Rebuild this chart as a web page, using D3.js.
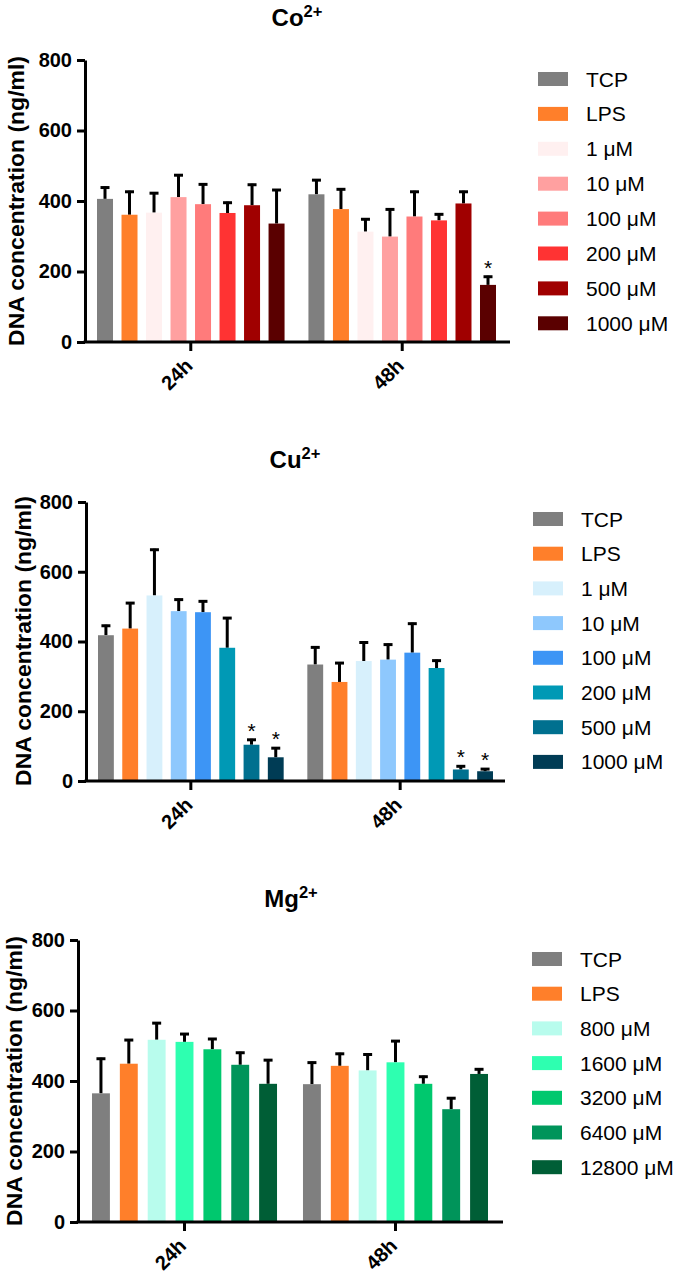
<!DOCTYPE html>
<html>
<head>
<meta charset="utf-8">
<script src="https://cdn.jsdelivr.net/npm/d3@7"></script>
<style>
  html, body { margin: 0; padding: 0; background: #fff; }
  svg { display: block; font-family: "Liberation Sans", Arial, sans-serif; }
</style>
</head>
<body>
<svg id="chart" width="685" height="1275"></svg>
<script>
// ---------------- DATA ----------------
const times = ["24h", "48h"];
const yTicks = [0, 200, 400, 600, 800];

// Co2+
const coSeries = ["TCP", "LPS", "1 μM", "10 μM", "100 μM", "200 μM", "500 μM", "1000 μM"];
const coColors = ["#7f7f7f", "#ff7f2a", "#fff0f0", "#ffa0a0", "#ff7b7b", "#ff3333", "#a00000", "#5a0000"];
const coMean24 = [406, 361, 367, 411, 391, 366, 388, 336];
const coSD24   = [35, 68, 58, 65, 59, 32, 61, 98];
const coMean48 = [419, 377, 313, 299, 356, 345, 393, 162];
const coSD48   = [43, 59, 38, 80, 73, 20, 36, 26];
const coStars24 = [];
const coStars48 = ["1000 μM"];

// Cu2+
const cuSeries = ["TCP", "LPS", "1 μM", "10 μM", "100 μM", "200 μM", "500 μM", "1000 μM"];
const cuColors = ["#7f7f7f", "#ff7f2a", "#d7f0fc", "#8ec8fd", "#3d95f5", "#0099b5", "#00708f", "#003c55"];
const cuMean24 = [418, 437, 532, 487, 484, 382, 104, 68];
const cuSD24   = [30, 76, 134, 36, 34, 88, 17, 29];
const cuMean48 = [334, 284, 344, 348, 368, 324, 33, 28];
const cuSD48   = [52, 57, 56, 46, 86, 24, 12, 9];
const cuStars24 = ["500 μM", "1000 μM"];
const cuStars48 = ["500 μM", "1000 μM"];

// Mg2+
const mgSeries = ["TCP", "LPS", "800 μM", "1600 μM", "3200 μM", "6400 μM", "12800 μM"];
const mgColors = ["#7f7f7f", "#ff7f2a", "#b8fced", "#2effb0", "#00c86e", "#00945a", "#005e36"];
const mgMean24 = [365, 449, 517, 511, 490, 446, 392];
const mgSD24   = [101, 70, 50, 25, 32, 37, 70];
const mgMean48 = [391, 443, 430, 453, 392, 320, 420];
const mgSD48   = [64, 37, 48, 63, 23, 34, 16];
const mgStars24 = [];
const mgStars48 = [];

// ---------------- LAYOUT ----------------
const panels = [
  { ion: "Co", series: coSeries, colors: coColors, means: [coMean24, coMean48], sds: [coSD24, coSD48], stars: [coStars24, coStars48],
    titleX: 297, titleY: 26, y0: 342, y800: 60, axisX: 85, xEnd: 510, gStart: 97, gEnd: 496, padOuter: 0.113, padInner: 0.347,
    legendX: 538, legendY: 79, legendStep: 34.9, labelX: 24, labelY: 201 },
  { ion: "Cu", series: cuSeries, colors: cuColors, means: [cuMean24, cuMean48], sds: [cuSD24, cuSD48], stars: [cuStars24, cuStars48],
    titleX: 295, titleY: 468, y0: 781, y800: 502, axisX: 86, xEnd: 505, gStart: 98, gEnd: 493, padOuter: 0.113, padInner: 0.347,
    legendX: 533, legendY: 519, legendStep: 34.7, labelX: 31, labelY: 641 },
  { ion: "Mg", series: mgSeries, colors: mgColors, means: [mgMean24, mgMean48], sds: [mgSD24, mgSD48], stars: [mgStars24, mgStars48],
    titleX: 291, titleY: 907, y0: 1222, y800: 940, axisX: 78, xEnd: 503, gStart: 92, gEnd: 488, padOuter: 0.123, padInner: 0.357,
    legendX: 532, legendY: 959, legendStep: 34.7, labelX: 22, labelY: 1081 }
];

const FONT = "Liberation Sans, Arial, sans-serif";
const svg = d3.select("#chart");

panels.forEach(p => {
  const g = svg.append("g");

  const y = d3.scaleLinear().domain([0, 800]).range([p.y0, p.y800]);
  const x0 = d3.scaleBand().domain(times).range([p.gStart, p.gEnd]).paddingInner(p.padOuter);
  const x1 = d3.scaleBand().domain(p.series).range([0, x0.bandwidth()]).paddingInner(p.padInner);
  const color = d3.scaleOrdinal().domain(p.series).range(p.colors);

  // Title
  const t = g.append("text")
    .attr("x", p.titleX).attr("y", p.titleY)
    .attr("text-anchor", "middle")
    .attr("font-weight", "bold").attr("font-size", 24)
    .text(p.ion);
  t.append("tspan").attr("dy", -9).attr("font-size", 16.5).text("2+");

  const rows = [];
  times.forEach((tm, ti) => {
    p.series.forEach((s, si) => {
      rows.push({ time: tm, series: s, mean: p.means[ti][si], sd: p.sds[ti][si], star: p.stars[ti].includes(s) });
    });
  });

  const bx = d => x0(d.time) + x1(d.series);
  const cx = d => bx(d) + x1.bandwidth() / 2;

  // Error bars (upper only)
  const eg = g.append("g");
  eg.selectAll("line.err").data(rows).join("line")
    .attr("x1", cx).attr("x2", cx)
    .attr("y1", d => y(d.mean))
    .attr("y2", d => y(d.mean + d.sd))
    .attr("stroke", "#000").attr("stroke-width", 3);
  eg.selectAll("line.cap").data(rows).join("line")
    .attr("x1", d => cx(d) - 4.5)
    .attr("x2", d => cx(d) + 4.5)
    .attr("y1", d => y(d.mean + d.sd) + 1)
    .attr("y2", d => y(d.mean + d.sd) + 1)
    .attr("stroke", "#000").attr("stroke-width", 3);

  g.append("g").selectAll("rect").data(rows).join("rect")
    .attr("x", bx)
    .attr("width", x1.bandwidth())
    .attr("y", d => y(d.mean))
    .attr("height", d => y(0) - y(d.mean))
    .attr("fill", d => color(d.series));

  // Stars
  g.append("g").selectAll("text").data(rows.filter(d => d.star)).join("text")
    .attr("x", cx)
    .attr("y", d => y(d.mean + d.sd) - 1)
    .attr("text-anchor", "middle")
    .attr("font-size", 21)
    .text("*");

  // Y axis
  const ya = g.append("g").attr("transform", `translate(${p.axisX},0)`)
    .call(d3.axisLeft(y).tickValues(yTicks).tickSize(8).tickPadding(5).tickSizeOuter(0));
  ya.select(".domain").attr("stroke-width", 3);
  ya.selectAll(".tick line").attr("stroke-width", 3);
  ya.selectAll(".tick text").attr("font-size", 20).attr("font-weight", "bold")
    .attr("font-family", FONT).attr("fill", "#000");

  // X axis
  g.append("line")
    .attr("x1", p.axisX - 1.5).attr("x2", p.xEnd)
    .attr("y1", p.y0).attr("y2", p.y0)
    .attr("stroke", "#000").attr("stroke-width", 3);
  const xa = g.append("g").attr("transform", `translate(0,${p.y0})`)
    .call(d3.axisBottom(x0).tickSize(9).tickSizeOuter(0));
  xa.select(".domain").remove();
  xa.selectAll(".tick line").attr("stroke-width", 3);
  xa.selectAll(".tick text")
    .attr("font-size", 20).attr("font-weight", "bold")
    .attr("font-family", FONT).attr("fill", "#000")
    .attr("text-anchor", "end")
    .attr("y", 0).attr("dy", 0)
    .attr("transform", "translate(3,25) rotate(-45)");

  // Y label (sized to span ~290 px like the reference)
  const yl = g.append("text")
    .attr("transform", `translate(${p.labelX},${p.labelY}) rotate(-90)`)
    .attr("text-anchor", "middle")
    .attr("font-weight", "bold").attr("font-size", 20)
    .text("DNA concentration (ng/ml)");
  const len = yl.node().getComputedTextLength();
  if (len > 0) yl.attr("font-size", 20 * 290 / len);

  // Legend
  const li = g.append("g").selectAll("g").data(p.series).join("g")
    .attr("transform", (d, i) => `translate(${p.legendX},${p.legendY + i * p.legendStep})`);
  li.append("rect").attr("x", 0).attr("y", -7).attr("width", 30).attr("height", 14)
    .attr("fill", d => color(d));
  li.append("text").attr("x", 48).attr("y", 7.5).attr("font-size", 21).text(d => d);
});
</script>
</body>
</html>
